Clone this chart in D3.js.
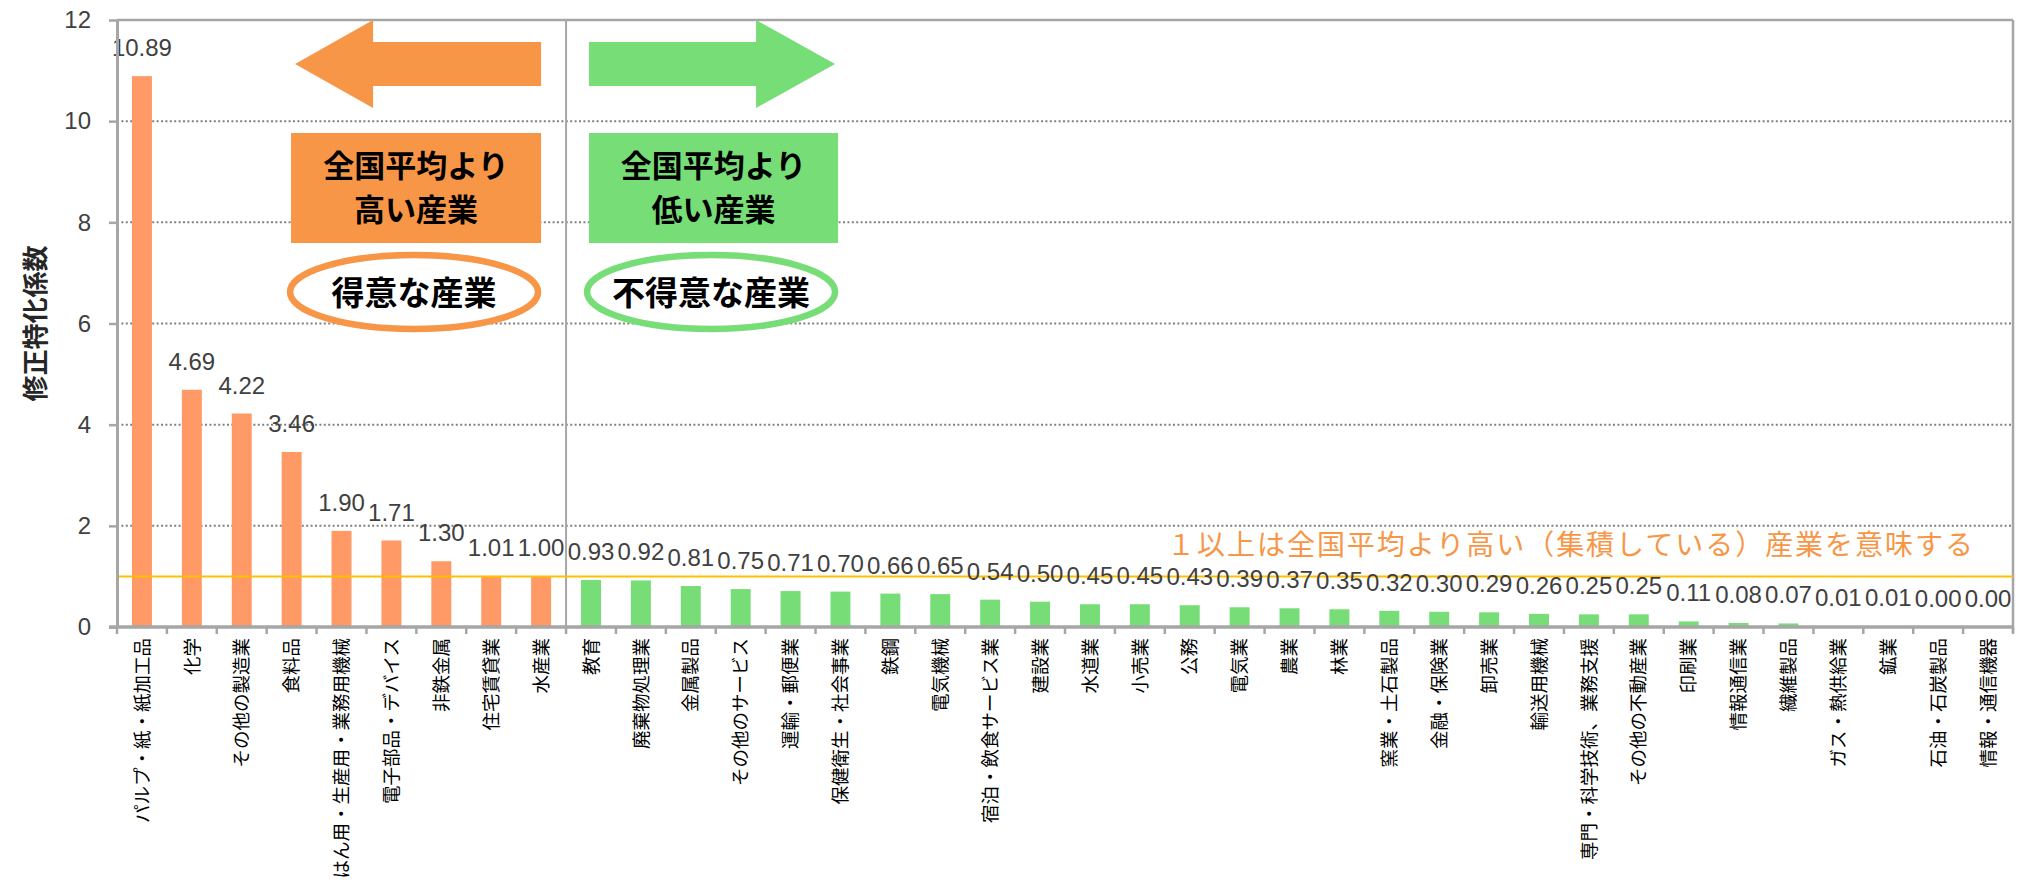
<!DOCTYPE html>
<html><head><meta charset="utf-8">
<script src="https://cdn.jsdelivr.net/npm/d3@7"></script>
<style>body{margin:0;background:#fff}svg{display:block}</style>
</head><body><svg id="c" width="2018" height="880"></svg>
<script>
const categories = ["パルプ・紙・紙加工品","化学","その他の製造業","食料品","はん用・生産用・業務用機械","電子部品・デバイス","非鉄金属","住宅賃貸業","水産業","教育","廃棄物処理業","金属製品","その他のサービス","運輸・郵便業","保健衛生・社会事業","鉄鋼","電気機械","宿泊・飲食サービス業","建設業","水道業","小売業","公務","電気業","農業","林業","窯業・土石製品","金融・保険業","卸売業","輸送用機械","専門・科学技術、業務支援","その他の不動産業","印刷業","情報通信業","繊維製品","ガス・熱供給業","鉱業","石油・石炭製品","情報・通信機器"];
const values = [10.89,4.69,4.22,3.46,1.90,1.71,1.30,1.01,1.00,0.93,0.92,0.81,0.75,0.71,0.70,0.66,0.65,0.54,0.50,0.45,0.45,0.43,0.39,0.37,0.35,0.32,0.30,0.29,0.26,0.25,0.25,0.11,0.08,0.07,0.01,0.01,0.00,0.00];
const yTicks = [0,2,4,6,8,10,12];
const nationalAverage = 1;
const yTitle = "修正特化係数";
const note = "１以上は全国平均より高い（集積している）産業を意味する";
const highText = ["全国平均より","高い産業"];
const lowText = ["全国平均より","低い産業"];
const highTag = "得意な産業";
const lowTag = "不得意な産業";

const L=117, R=2013, T=20, B=627;
const ORANGE_BAR="#FF9966", GREEN="#77DD77", ORANGE="#F79646", AXIS="#a6a6a6";
const svg=d3.select("#c");
const x=d3.scaleBand().domain(categories).range([L,R]).paddingInner(0.6).paddingOuter(0.3);
const y=d3.scaleLinear().domain([0,12]).range([B,T]);
const step=x.step(), gap=(step-x.bandwidth())/2;

// gridlines
svg.append("g").selectAll("line").data(yTicks.filter(d=>d>0&&d<12)).join("line")
  .attr("x1",L).attr("x2",R).attr("y1",d=>y(d)).attr("y2",d=>y(d))
  .attr("stroke","#808080").attr("stroke-width",2).attr("stroke-dasharray","2,2.4");

// top & right border
svg.append("line").attr("x1",L).attr("x2",R).attr("y1",y(12)).attr("y2",y(12)).attr("stroke",AXIS).attr("stroke-width",2.5);
svg.append("line").attr("x1",R).attr("x2",R).attr("y1",y(12)).attr("y2",B+6).attr("stroke",AXIS).attr("stroke-width",2.5);

// divider between above / below average
const firstLow = values.findIndex(v=>v<nationalAverage);
const dv = x(categories[firstLow]) - gap;
svg.append("line").attr("x1",dv).attr("x2",dv).attr("y1",y(12)).attr("y2",B).attr("stroke",AXIS).attr("stroke-width",2);

// bars
svg.append("g").selectAll("rect").data(categories).join("rect")
  .attr("x",d=>x(d)).attr("width",x.bandwidth())
  .attr("y",(d,i)=>y(values[i])).attr("height",(d,i)=>B-y(values[i]))
  .attr("fill",(d,i)=>values[i]>=nationalAverage?ORANGE_BAR:GREEN);

// average line
svg.append("line").attr("x1",L).attr("x2",R).attr("y1",y(nationalAverage)).attr("y2",y(nationalAverage))
  .attr("stroke","#FFC000").attr("stroke-width",2);

// value labels
svg.append("g").selectAll("text").data(categories).join("text")
  .attr("x",d=>x(d)+x.bandwidth()/2).attr("y",(d,i)=>y(values[i])-20)
  .attr("text-anchor","middle").attr("font-family","Liberation Sans, Arial, sans-serif")
  .attr("font-size",24).attr("fill","#404040")
  .text((d,i)=>d3.format(".2f")(values[i]));

// y axis
const ya=svg.append("g").attr("transform",`translate(${L},0)`)
  .call(d3.axisLeft(y).tickValues(yTicks).tickSize(8).tickSizeOuter(0).tickPadding(18).tickFormat(d3.format("d")));
ya.select(".domain").attr("stroke",AXIS).attr("stroke-width",3);
ya.selectAll(".tick line").attr("stroke",AXIS).attr("stroke-width",2.5);
ya.selectAll(".tick text").attr("font-family","Liberation Sans, Arial, sans-serif").attr("font-size",24).attr("fill","#404040");

// x axis
const xa=svg.append("g").attr("transform",`translate(0,${B})`)
  .call(d3.axisBottom(x).tickSize(0).tickSizeOuter(0));
xa.select(".domain").remove();
xa.selectAll(".tick text")
  .attr("transform","rotate(-90)").attr("x",-11).attr("y",0).attr("dy","0.36em")
  .attr("text-anchor","end").attr("font-family","Noto Sans CJK JP, sans-serif")
  .attr("font-size",18.5).attr("fill","#000");
svg.append("line").attr("x1",L-8).attr("x2",R).attr("y1",B).attr("y2",B).attr("stroke",AXIS).attr("stroke-width",3.5);
const bounds = categories.map(d=>x(d)-gap).concat([R]);
svg.append("g").selectAll("line").data(bounds).join("line")
  .attr("x1",d=>d).attr("x2",d=>d).attr("y1",B).attr("y2",B+7)
  .attr("stroke",AXIS).attr("stroke-width",2.5);

// y title
svg.append("text").attr("transform",`translate(36,${y(6)}) rotate(-90)`)
  .attr("text-anchor","middle").attr("dy","0.35em")
  .attr("font-family","Noto Sans CJK JP, sans-serif").attr("font-weight","bold")
  .attr("font-size",26).attr("fill","#262626").text(yTitle);

// note
svg.append("text").attr("x",1167).attr("y",y(nationalAverage)-31).attr("dy","0.35em")
  .attr("font-family","Noto Sans CJK JP, sans-serif").attr("font-size",28)
  .attr("fill",ORANGE).attr("textLength",806).attr("lengthAdjust","spacing").text(note);

// arrows
function arrowPath(tail, tip, headBase){
  const c=T+44;
  return `M${tip},${c} L${headBase},${T} L${headBase},${T+22} L${tail},${T+22} L${tail},${T+66} L${headBase},${T+66} L${headBase},${T+88} Z`;
}
svg.append("path").attr("d",arrowPath(dv-25, dv-271, dv-193)).attr("fill",ORANGE);
svg.append("path").attr("d",arrowPath(dv+23, dv+269, dv+190)).attr("fill",GREEN);

// boxes (two-line text)
function box(x0,x1,color,lines){
  svg.append("rect").attr("x",x0).attr("y",T+113).attr("width",x1-x0).attr("height",110).attr("fill",color);
  const cx=(x0+x1)/2;
  lines.forEach((s,i)=>svg.append("text").attr("x",cx).attr("y",T+146+i*44).attr("dy","0.36em")
    .attr("text-anchor","middle").attr("font-family","Noto Sans CJK JP, sans-serif")
    .attr("font-weight","bold").attr("font-size",31).attr("fill","#000").text(s));
}
box(dv-275, dv-25, ORANGE, highText);
box(dv+23, dv+272, GREEN, lowText);

// ellipses
function tag(cx,color,t){
  svg.append("ellipse").attr("cx",cx).attr("cy",T+272).attr("rx",124).attr("ry",37)
    .attr("fill","#fff").attr("stroke",color).attr("stroke-width",6.5);
  svg.append("text").attr("x",cx).attr("y",T+273).attr("dy","0.36em").attr("text-anchor","middle")
    .attr("font-family","Noto Sans CJK JP, sans-serif").attr("font-weight","bold")
    .attr("font-size",33).attr("fill","#000").text(t);
}
tag(dv-152, ORANGE, highTag);
tag(dv+145, GREEN, lowTag);
</script></body></html>
